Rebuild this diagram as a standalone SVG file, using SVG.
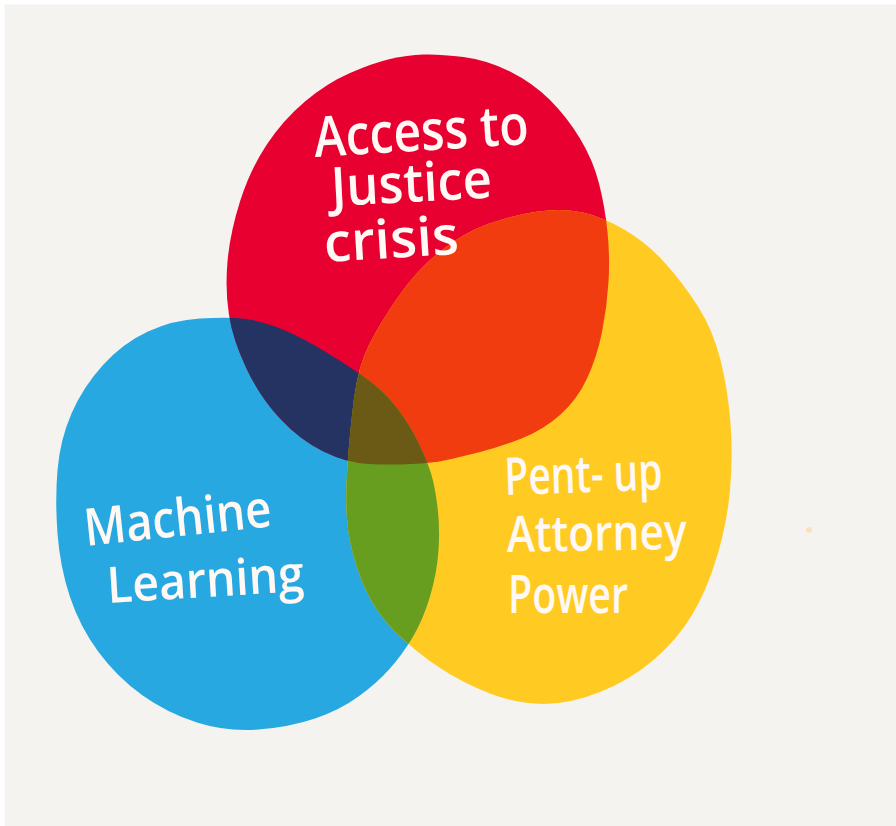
<svg xmlns="http://www.w3.org/2000/svg" xmlns:xlink="http://www.w3.org/1999/xlink" width="896" height="826" viewBox="0 0 896 826">
<style>
.lbl{font-family:"Open Sans","Noto Sans","DejaVu Sans",sans-serif;font-weight:600;fill:#FFF8F4;lengthAdjust:spacingAndGlyphs}
</style>
<defs>
<path id="red" d="M390,59 Q407,55 423.5,54.5 Q440,54 463.5,57 Q487,60 510,71.5 Q533,83 550,100 Q567,117 580,138.5 Q593,160 599,183.5 Q605,207 607.5,232 Q610,257 608.5,282 Q607,307 602,332 Q597,357 587,378.5 Q577,400 560,415 Q543,430 521.5,438.5 Q500,447 480,452 Q460,457 446.5,460 Q433,463 411.5,464 Q390,465 368.5,464 Q347,463 323.5,451.5 Q300,440 280,418.5 Q260,397 246.5,368.5 Q233,340 229,315 Q225,290 227.5,261.5 Q230,233 240,201.5 Q250,170 266.5,145 Q283,120 305,101.5 Q327,83 350,73 Q373,63 390,59 Z"/>
<path id="blue" d="M200,318.5 Q227,317 242,318.5 Q257,320 275,326.5 Q293,333 316.5,346.5 Q340,360 361.5,375 Q383,390 396.5,407.5 Q410,425 419,444 Q428,463 431.5,475 Q435,487 437.5,507 Q440,527 438.5,550 Q437,573 430,596.5 Q423,620 412.5,637.5 Q402,655 389.5,669 Q377,683 358.5,696.5 Q340,710 315,718.5 Q290,727 258.5,729.5 Q227,732 197,722.5 Q167,713 142,695 Q117,677 98.5,652 Q80,627 70,597 Q60,567 57.5,533.5 Q55,500 57.5,470 Q60,440 71.5,413.5 Q83,387 103,365 Q123,343 148,331.5 Q173,320 200,318.5 Z"/>
<path id="yellow" d="M488,224 Q513,215 538,211.5 Q563,208 583,212.5 Q603,217 625,230 Q647,243 665,263 Q683,283 698,306.5 Q713,330 720.5,360 Q728,390 730.5,423.5 Q733,457 730,490 Q727,523 717,556.5 Q707,590 692,615 Q677,640 653.5,660 Q630,680 600,692 Q570,704 543.5,704 Q517,704 490,693.5 Q463,683 440,668 Q417,653 395,631.5 Q373,610 361.5,580 Q350,550 347.5,525 Q345,500 347.5,465 Q350,430 354,398.5 Q358,367 369,345 Q380,323 398.5,296.5 Q417,270 440,251.5 Q463,233 488,224 Z"/>
<clipPath id="clipRed"><use xlink:href="#red"/></clipPath>
<clipPath id="clipBlue"><use xlink:href="#blue"/></clipPath>
</defs>
<rect x="0" y="0" width="896" height="826" fill="#FFFFFF"/>
<rect x="4.5" y="4.5" width="891.5" height="821.5" fill="#F4F3EF"/>
<circle cx="809" cy="530" r="3" fill="#FAE2BE"/>
<g id="node-machine-learning"><use xlink:href="#blue" fill="#27A8E0"/></g>
<g id="node-access-to-justice"><use xlink:href="#red" fill="#E80030"/></g>
<g id="node-attorney-power"><use xlink:href="#yellow" fill="#FFCB22"/></g>
<g id="overlaps">
<use xlink:href="#blue" fill="#253363" clip-path="url(#clipRed)"/>
<use xlink:href="#yellow" fill="#F03C0E" clip-path="url(#clipRed)"/>
<use xlink:href="#yellow" fill="#689E1F" clip-path="url(#clipBlue)"/>
<g clip-path="url(#clipBlue)"><use xlink:href="#yellow" fill="#6B5A16" clip-path="url(#clipRed)"/></g>
</g>
<g id="label-access-to-justice">
<text class="lbl" x="315" y="157" font-size="56" textLength="215" lengthAdjust="spacingAndGlyphs" transform="rotate(-3.5 315 157)">Access to</text>
<text class="lbl" x="332" y="206" font-size="54" textLength="161" lengthAdjust="spacingAndGlyphs" transform="rotate(-3 332 206)">Justice</text>
<text class="lbl" x="325" y="262" font-size="54" textLength="135" lengthAdjust="spacingAndGlyphs" transform="rotate(-3.5 325 262)">crisis</text>
</g>
<g id="label-machine-learning">
<text class="lbl" x="86" y="546" font-size="52" textLength="188" lengthAdjust="spacingAndGlyphs" transform="rotate(-6 86 546)">Machine</text>
<text class="lbl" x="108" y="603" font-size="50" textLength="197" lengthAdjust="spacingAndGlyphs" transform="rotate(-3.5 108 603)">Learning</text>
</g>
<g id="label-attorney-power">
<text class="lbl" x="505" y="495" font-size="52" textLength="158" lengthAdjust="spacingAndGlyphs" transform="rotate(-2 505 495)">Pent- up</text>
<text class="lbl" x="507" y="552" font-size="50" textLength="180" lengthAdjust="spacingAndGlyphs" transform="rotate(-1 507 552)">Attorney</text>
<text class="lbl" x="508" y="613" font-size="52" textLength="120" lengthAdjust="spacingAndGlyphs">Power</text>
</g>
</svg>
